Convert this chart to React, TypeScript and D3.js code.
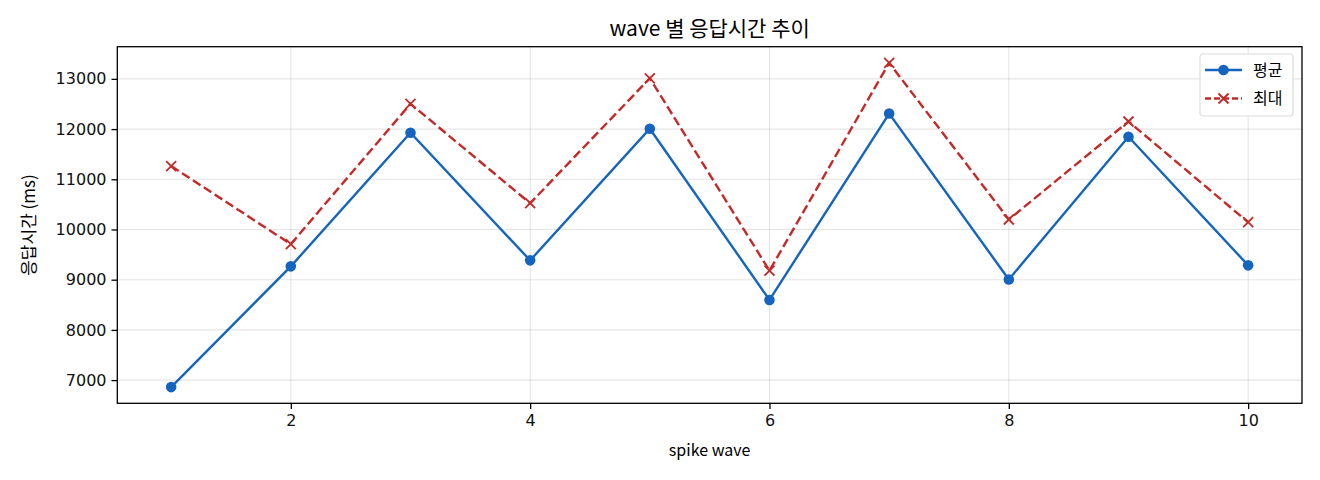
import { useEffect, useRef } from 'react';
import * as d3 from 'd3';

const waves = [1, 2, 3, 4, 5, 6, 7, 8, 9, 10];
const avgMs = [6861, 9266, 11926, 9385, 12006, 8597, 12310, 9005, 11847, 9286];
const maxMs = [11264, 9708, 12503, 10523, 13012, 9179, 13318, 10199, 12151, 10145];
const xTicks = [2, 4, 6, 8, 10];
const yTicks = [7000, 8000, 9000, 10000, 11000, 12000, 13000];

const W = 1320;
const H = 480;
const KR = '"Noto Sans CJK KR", "Noto Sans", sans-serif';
const NUM = '"DejaVu Sans", sans-serif';
const BLUE = '#1565c0';
const RED = '#c62828';

const App = () => {
  const ref = useRef<SVGSVGElement>(null);

  useEffect(() => {
    const svg = d3.select(ref.current);
    svg.selectAll('*').remove();

    const left = 117.3;
    const right = 1302;
    const top = 46.7;
    const bottom = 403.3;

    // matplotlib-style 5% margins
    const xMin = d3.min(waves)!, xMax = d3.max(waves)!;
    const xPad = (xMax - xMin) * 0.05;
    const all = avgMs.concat(maxMs);
    const yMin = d3.min(all)!, yMax = d3.max(all)!;
    const yPad = (yMax - yMin) * 0.05;

    const x = d3.scaleLinear().domain([xMin - xPad, xMax + xPad]).range([left, right]);
    const y = d3.scaleLinear().domain([yMin - yPad, yMax + yPad]).range([bottom, top]);

    // grid
    const grid = svg.append('g').attr('stroke', '#000').attr('stroke-opacity', 0.1).attr('stroke-width', 1.1);
    grid.selectAll('line.gx').data(xTicks).enter().append('line')
      .attr('x1', (d) => x(d)).attr('x2', (d) => x(d)).attr('y1', top).attr('y2', bottom);
    grid.selectAll('line.gy').data(yTicks).enter().append('line')
      .attr('x1', left).attr('x2', right).attr('y1', (d) => y(d)).attr('y2', (d) => y(d));

    // axes
    const xAxis = svg.append('g').attr('transform', `translate(0, ${bottom})`)
      .call(d3.axisBottom(x).tickValues(xTicks).tickSize(5.8).tickPadding(5.5).tickFormat(d3.format('d')));
    const yAxis = svg.append('g').attr('transform', `translate(${left}, 0)`)
      .call(d3.axisLeft(y).tickValues(yTicks).tickSize(5.8).tickPadding(5).tickFormat(d3.format('d')));
    [xAxis, yAxis].forEach((a) => {
      a.select('.domain').remove();
      a.selectAll('line').attr('stroke', '#000').attr('stroke-width', 1.3);
      a.selectAll('text').attr('fill', '#111').style('font-family', NUM).style('font-size', '16px');
    });

    svg.append('rect')
      .attr('x', left).attr('y', top).attr('width', right - left).attr('height', bottom - top)
      .attr('fill', 'none').attr('stroke', '#000').attr('stroke-width', 1.3);

    // lines
    const line = d3.line<number>().x((_, i) => x(waves[i])).y((d) => y(d));

    svg.append('path').datum(avgMs).attr('d', line)
      .attr('fill', 'none').attr('stroke', BLUE).attr('stroke-width', 2.4);
    svg.append('g').selectAll('circle').data(avgMs).enter().append('circle')
      .attr('cx', (_, i) => x(waves[i])).attr('cy', (d) => y(d)).attr('r', 5.3).attr('fill', BLUE);

    svg.append('path').datum(maxMs).attr('d', line)
      .attr('fill', 'none').attr('stroke', RED).attr('stroke-width', 2.4).attr('stroke-dasharray', '9,4');
    const cross = 'M-5,-5L5,5M-5,5L5,-5';
    svg.append('g').selectAll('path').data(maxMs).enter().append('path')
      .attr('d', cross).attr('transform', (d, i) => `translate(${x(waves[i])}, ${y(d)})`)
      .attr('stroke', RED).attr('stroke-width', 1.8).attr('fill', 'none');

    // titles
    svg.append('text').attr('x', (left + right) / 2).attr('y', 36).attr('text-anchor', 'middle')
      .style('font-family', KR).style('font-size', '21px').text('wave 별 응답시간 추이');
    svg.append('text').attr('x', (left + right) / 2).attr('y', 456).attr('text-anchor', 'middle')
      .style('font-family', KR).style('font-size', '16px').text('spike wave');
    svg.append('text').attr('text-anchor', 'middle')
      .attr('transform', `translate(35, ${(top + bottom) / 2}) rotate(-90)`)
      .style('font-family', KR).style('font-size', '17px').text('응답시간 (ms)');

    // legend
    const lg = svg.append('g').attr('transform', 'translate(1200, 54)');
    lg.append('rect').attr('width', 93).attr('height', 62).attr('rx', 3)
      .attr('fill', '#fff').attr('fill-opacity', 0.8).attr('stroke', '#dcdcdc').attr('stroke-width', 1.2);
    const rows = [
      { label: '평균', color: BLUE, dash: null as string | null, marker: 'circle' },
      { label: '최대', color: RED, dash: '6,3', marker: 'cross' },
    ];
    rows.forEach((r, i) => {
      const cy = 16 + i * 28.5;
      lg.append('line').attr('x1', 5).attr('x2', 42).attr('y1', cy).attr('y2', cy)
        .attr('stroke', r.color).attr('stroke-width', 2.4).attr('stroke-dasharray', r.dash);
      if (r.marker === 'circle') {
        lg.append('circle').attr('cx', 23.5).attr('cy', cy).attr('r', 5.3).attr('fill', r.color);
      } else {
        lg.append('path').attr('d', cross).attr('transform', `translate(23.5, ${cy})`)
          .attr('stroke', r.color).attr('stroke-width', 1.8);
      }
      lg.append('text').attr('x', 53).attr('y', cy + 5.5)
        .style('font-family', KR).style('font-size', '16px').text(r.label);
    });
  }, []);

  return (
    <svg ref={ref} width={W} height={H}
      style={{ position: 'absolute', left: 0, top: 0, background: '#fff' }} />
  );
};

export default App;
